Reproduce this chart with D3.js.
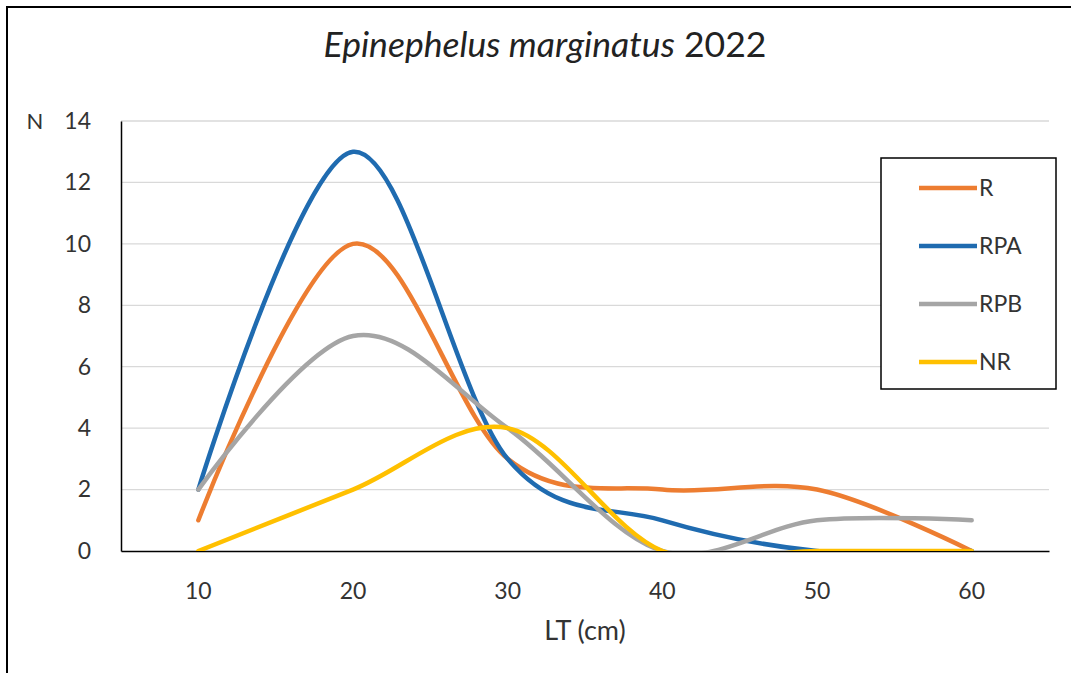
<!DOCTYPE html>
<html>
<head>
<meta charset="utf-8">
<script src="https://cdn.jsdelivr.net/npm/d3@7"></script>
<style>
  body { margin: 0; background: #fff; }
  text { font-family: Lato, "Open Sans", sans-serif; fill: #333; }
</style>
</head>
<body>
<script>
// données
const categories = [10, 20, 30, 40, 50, 60]
const valR   = [1, 10, 3, 2, 2, 0]
const valRPA = [2, 13, 3, 1, 0, 0]
const valRPB = [2, 7, 4, 0, 1, 1]
const valNR  = [0, 2, 4, 0, 0, 0]
const yTicks = [0, 2, 4, 6, 8, 10, 12, 14]

const seriesNames = ["R", "RPA", "RPB", "NR"]
const seriesValues = [valR, valRPA, valRPB, valNR]
const colors = ["#ED7D31", "#1F6BB0", "#A5A5A5", "#FFC000"]

const width = 1071, height = 673
const svg = d3.select("body").append("svg")
    .attr("width", width)
    .attr("height", height)

// cadre du graphique (dépasse à droite et en bas)
svg.append("rect")
    .attr("x", 7).attr("y", 7)
    .attr("width", 1100).attr("height", 700)
    .attr("fill", "white")
    .attr("stroke", "black")
    .attr("stroke-width", 2)

const x = d3.scaleBand().domain(categories).range([121, 1049])
const y = d3.scaleLinear().domain([0, 14]).range([551, 121])

// zone de tracé : Excel coupe les courbes qui passent sous 0
svg.append("clipPath").attr("id", "zone")
    .append("rect")
    .attr("x", 121).attr("y", 100)
    .attr("width", 928).attr("height", 451)

// grille
svg.append("g").selectAll("line")
    .data(yTicks.filter(d => d > 0))
    .enter().append("line")
    .attr("x1", 121).attr("x2", 1049)
    .attr("y1", d => y(d)).attr("y2", d => y(d))
    .attr("stroke", "#d9d9d9")
    .attr("stroke-width", 1.3)

// axe Y
const yAxis = svg.append("g")
    .attr("transform", "translate(121,0)")
    .call(d3.axisLeft(y).tickValues(yTicks).tickSize(0).tickPadding(30))
yAxis.select(".domain").attr("stroke", "black").attr("stroke-width", 1.5)
yAxis.selectAll("text").style("font-size", "23px").attr("fill", "#333")

// axe X
const xAxis = svg.append("g")
    .attr("transform", "translate(0,551)")
    .call(d3.axisBottom(x).tickSize(0).tickPadding(32))
xAxis.select(".domain").attr("stroke", "black").attr("stroke-width", 1.5)
xAxis.selectAll("text").style("font-size", "23px").attr("fill", "#333")

// titres
const title = svg.append("text")
    .attr("x", 545).attr("y", 57)
    .attr("text-anchor", "middle")
    .style("font-size", "29px")
    .style("fill", "#222")
title.append("tspan").style("font-style", "italic").text("Epinephelus marginatus")
title.append("tspan").text(" 2022")
const tw = title.node().getComputedTextLength()
title.style("font-size", (29 * 443 / tw) + "px")

svg.append("text")
    .attr("x", 35).attr("y", 129)
    .attr("text-anchor", "middle")
    .style("font-size", "22px")
    .text("N")

svg.append("text")
    .attr("x", 585).attr("y", 640)
    .attr("text-anchor", "middle")
    .style("font-size", "27px")
    .text("LT (cm)")

// courbes lissées
const line = d3.line()
    .x((d, i) => x(categories[i]) + x.bandwidth() / 2)
    .y(d => y(d))
    .curve(d3.curveCatmullRom.alpha(0))

svg.append("g")
    .attr("clip-path", "url(#zone)")
    .selectAll("path")
    .data(seriesValues)
    .enter().append("path")
    .attr("d", d => line(d))
    .attr("fill", "none")
    .attr("stroke", (d, i) => colors[i])
    .attr("stroke-width", 4.5)
    .attr("stroke-linecap", "round")

// légende
const legend = svg.append("g")
legend.append("rect")
    .attr("x", 881).attr("y", 158)
    .attr("width", 175).attr("height", 231)
    .attr("fill", "white")
    .attr("stroke", "black")
    .attr("stroke-width", 1.5)

const items = legend.selectAll(".item")
    .data(seriesNames)
    .enter().append("g")
    .attr("class", "item")
    .attr("transform", (d, i) => "translate(0," + (188 + i * 58) + ")")
items.append("line")
    .attr("x1", 919).attr("x2", 977)
    .attr("stroke", (d, i) => colors[i])
    .attr("stroke-width", 4.5)
items.append("text")
    .attr("x", 979).attr("dy", "0.35em")
    .style("font-size", "23px")
    .text(d => d)
</script>
</body>
</html>
